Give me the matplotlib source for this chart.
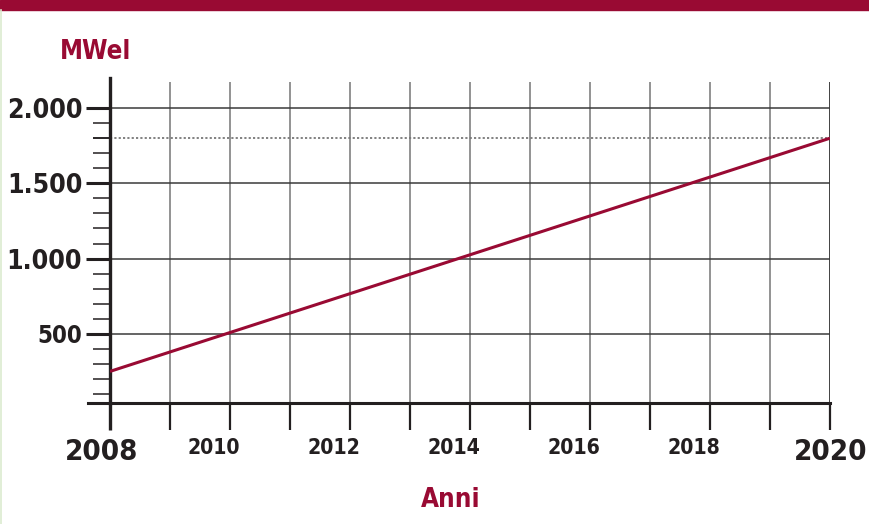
import os
import matplotlib
matplotlib.use('Agg')
import matplotlib.pyplot as plt
import matplotlib.transforms as mtransforms
from matplotlib import font_manager as fm
from matplotlib.patches import Rectangle
from matplotlib.lines import Line2D
from matplotlib.ticker import FixedLocator, FuncFormatter

# Data
years = [2008, 2020]
mwel = [250, 1800]
target = 1800
y_major = [500, 1000, 1500, 2000]
y_minor = [v for v in range(100, 2000, 100) if v % 500]
x_years = list(range(2008, 2021))
x_labels = {2008: '2008', 2010: '2010', 2012: '2012', 2014: '2014',
            2016: '2016', 2018: '2018', 2020: '2020'}

RED = '#990a33'
DARK = '#231f20'


def pick_font():
    # a narrow bold face looks closest to the DIN-like lettering
    prefs = ['LiberationSansNarrow-Bold.', 'DejaVuSansCondensed-Bold.', 'RobotoCondensed-Bold.',
             'OpenSans_Condensed-Bold.', 'OpenSansCondensed-Bold.', 'NotoSans-CondensedBold.']
    files = sorted(set(f.fname for f in fm.fontManager.ttflist))
    for p in prefs:
        for f in files:
            if os.path.basename(f).startswith(p):
                return f
    for f in files:
        b = os.path.basename(f).lower()
        if ('condensed' in b or 'narrow' in b) and 'bold' in b and 'italic' not in b \
                and 'oblique' not in b and 'semi' not in b and 'extra' not in b:
            return f
    return None


font_file = pick_font()


def fprop():
    if font_file:
        return fm.FontProperties(fname=font_file)
    return fm.FontProperties(family='DejaVu Sans', weight='bold')


W, H = 870, 524
fig = plt.figure(figsize=(W / 100, H / 100), dpi=100)
fig.patch.set_facecolor('white')
renderer = fig.canvas.get_renderer()

GROW = 1.08  # the reference lettering is taller than this font at equal width


def fit(txt, width_px):
    # size the text so its drawn width matches the reference
    txt.set_fontsize(20)
    w = txt.get_window_extent(renderer).width
    txt.set_fontsize(min(20 * GROW * width_px / w, 26))


left, right, bottom, top = 110, 830, 403, 78
ax = fig.add_axes([left / W, 1 - bottom / H, (right - left) / W, (bottom - top) / H])
ax.set_facecolor('none')
ax.set_xlim(2008, 2020)
ax.set_ylim(40, 2200)

# grid
for yr in x_years[1:]:
    c = '#8a8a8a' if yr < 2020 else '#333333'
    ax.vlines(yr, 40, 2175, color=c, lw=1.3, zorder=1)
for v in y_major:
    ax.hlines(v, 2008, 2020, color='#3a3a3a', lw=1.1, zorder=1)
ax.hlines(target, 2008, 2020, color='#777777', lw=1.3, linestyles=(0, (1.2, 1.2)), zorder=1)

# data line
ax.plot(years, mwel, color=RED, lw=2.2, zorder=3, solid_capstyle='butt')

# spines
for s in ['top', 'right']:
    ax.spines[s].set_visible(False)
ax.spines['left'].set_linewidth(2.4)
ax.spines['bottom'].set_linewidth(2.2)
ax.spines['left'].set_color(DARK)
ax.spines['bottom'].set_color(DARK)
ax.plot([-0.031, 0], [0, 0], transform=ax.transAxes, color=DARK, lw=2.2, clip_on=False)

# y ticks
ax.yaxis.set_major_locator(FixedLocator(y_major))
ax.yaxis.set_minor_locator(FixedLocator(y_minor + [target]))
ax.yaxis.set_major_formatter(FuncFormatter(lambda v, p: f'{int(v):,}'.replace(',', '.')))
ax.tick_params(axis='y', which='major', length=17, width=2.2, color=DARK, pad=3,
               labelcolor=DARK)
ax.tick_params(axis='y', which='minor', length=12, width=1.1, color=DARK)
for t in ax.yaxis.get_minor_ticks():
    if abs(t.get_loc() - target) < 1:
        t.tick1line.set_color('#8a8a8a')
        t.tick1line.set_markeredgewidth(1.5)

# x ticks
ax.set_xticks(x_years)
ax.set_xticklabels([x_labels.get(y, '') for y in x_years])
ax.tick_params(axis='x', which='major', length=19.5, width=1.6, color=DARK, pad=6,
               labelcolor=DARK)

fig.canvas.draw()

for t in ax.yaxis.get_major_ticks():
    lbl = t.label1
    lbl.set_fontproperties(fprop())
    fit(lbl, 70 * len(lbl.get_text()) / 5)

for t, y in zip(ax.xaxis.get_major_ticks(), x_years):
    lbl = t.label1
    lbl.set_fontproperties(fprop())
    if y in (2008, 2020):
        fit(lbl, 68)
        dx = -8 if y == 2008 else 1
    else:
        fit(lbl, 49)
        dx = -16
    lbl.set_transform(lbl.get_transform() + mtransforms.ScaledTranslation(dx / 100, 0, fig.dpi_scale_trans))
    if y == 2008:
        t.tick1line.set_markeredgewidth(2.4)

# titles
t1 = fig.text(60 / W, 1 - 59 / H, 'MWel', color=RED, fontproperties=fprop(),
              ha='left', va='baseline')
fit(t1, 66)
t2 = fig.text(451 / W, 1 - 507 / H, 'Anni', color=RED, fontproperties=fprop(),
              ha='center', va='baseline')
fit(t2, 55)

# top band and thin left edge
fig.patches.append(Rectangle((0, 1 - 10 / H), 1, 10 / H, transform=fig.transFigure,
                             color=RED, zorder=0))
fig.lines.append(Line2D([1.5 / W, 1.5 / W], [0, 1 - 10 / H], transform=fig.transFigure,
                        color='#dcebcf', lw=1.2))

fig.savefig('out.png', dpi=100)
